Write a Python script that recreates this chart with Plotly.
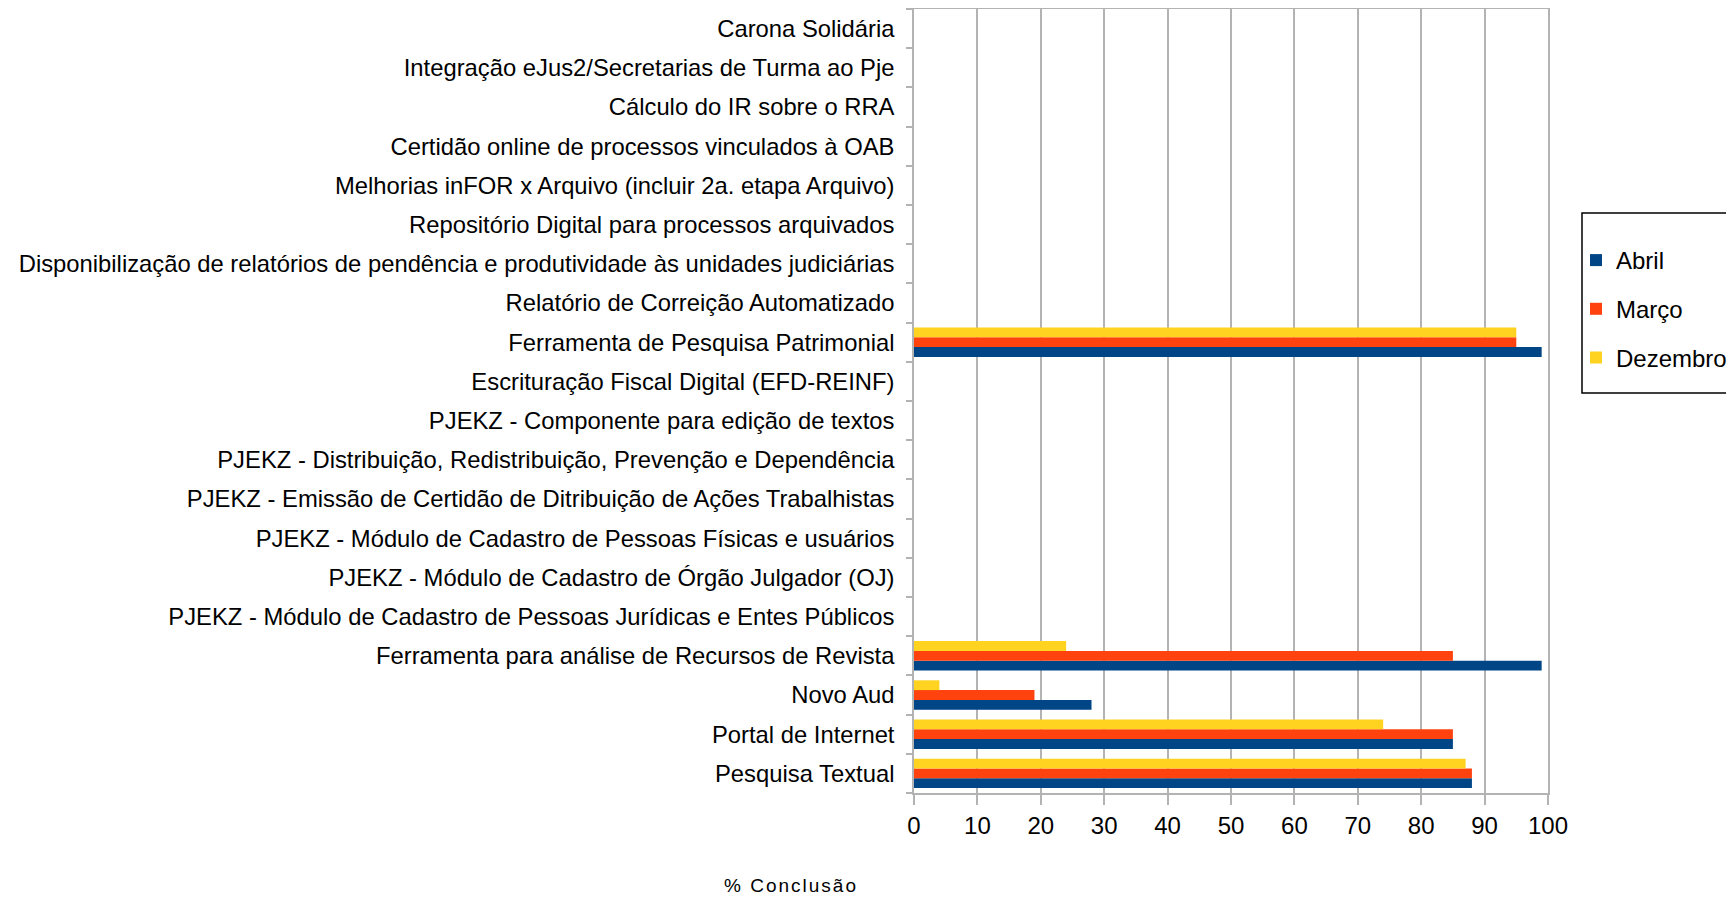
import plotly.graph_objects as go

categories = [
    "Pesquisa Textual",
    "Portal de Internet",
    "Novo Aud",
    "Ferramenta para análise de Recursos de Revista",
    "PJEKZ - Módulo de Cadastro de Pessoas Jurídicas e Entes Públicos",
    "PJEKZ - Módulo de Cadastro de Órgão Julgador (OJ)",
    "PJEKZ - Módulo de Cadastro de Pessoas Físicas e usuários",
    "PJEKZ - Emissão de Certidão de Ditribuição de Ações Trabalhistas",
    "PJEKZ - Distribuição, Redistribuição, Prevenção e Dependência",
    "PJEKZ - Componente para edição de textos",
    "Escrituração Fiscal Digital (EFD-REINF)",
    "Ferramenta de Pesquisa Patrimonial",
    "Relatório de Correição Automatizado",
    "Disponibilização de relatórios de pendência e produtividade às unidades judiciárias",
    "Repositório Digital para processos arquivados",
    "Melhorias inFOR x Arquivo (incluir 2a. etapa Arquivo)",
    "Certidão online de processos vinculados à OAB",
    "Cálculo do IR sobre o RRA",
    "Integração eJus2/Secretarias de Turma ao Pje",
    "Carona Solidária",
]

abril = [88, 85, 28, 99, None, None, None, None, None, None, None, 99, None, None, None, None, None, None, None, None]
marco = [88, 85, 19, 85, None, None, None, None, None, None, None, 95, None, None, None, None, None, None, None, None]
dezembro = [87, 74, 4, 24, None, None, None, None, None, None, None, 95, None, None, None, None, None, None, None, None]

series_names = ["Abril", "Março", "Dezembro"]
series_values = [abril, marco, dezembro]
colors = ["#004586", "#ff420e", "#ffd320"]

x_ticks = [0, 10, 20, 30, 40, 50, 60, 70, 80, 90, 100]
x_title = "% Conclusão"

FONT = "Liberation Sans, Arial, sans-serif"
OFF = 8  # page body margin
W, H = 1734 - OFF, 897 - OFF
L = 914 - OFF
T = 9 - OFF
R = W - (1548 - OFF)
B = H - (793 - OFF)
PW, PH = W - L - R, H - T - B


def px(sx):
    return (sx - OFF - L) / PW


def py(sy):
    return 1 - (sy - OFF - T) / PH


fig = go.Figure()
for name, vals, col in zip(series_names, series_values, colors):
    fig.add_trace(go.Bar(
        y=categories, x=vals, name=name, orientation="h",
        marker=dict(color=col, line=dict(width=0)),
        legendgroup=name,
    ))

fig.update_layout(
    width=W, height=H,
    margin=dict(l=L, r=R, t=T, b=B, autoexpand=False),
    paper_bgcolor="white", plot_bgcolor="white",
    barmode="group", bargap=0.25, bargroupgap=0,
    font=dict(family=FONT, size=24, color="#000000"),
    legend=dict(
        x=px(1576), xanchor="left", y=py(238), yanchor="top",
        font=dict(family=FONT, size=24, color="#000000"),
        bordercolor="#000000", borderwidth=0,
        tracegroupgap=14.5, itemsizing="constant",
        bgcolor="rgba(0,0,0,0)",
    ),
    showlegend=True,
)

fig.update_xaxes(
    range=[0, 100], tickvals=x_ticks, ticktext=[str(v) for v in x_ticks],
    showgrid=True, gridcolor="#b3b3b3", gridwidth=1.5,
    showline=True, linecolor="#b3b3b3", linewidth=1.5, mirror=True,
    ticks="outside", ticklen=10, tickcolor="#b3b3b3", tickwidth=1.5,
    tickfont=dict(family=FONT, size=24, color="#000000"),
    zeroline=False, fixedrange=True,
)
fig.update_yaxes(
    type="category", categoryorder="array", categoryarray=categories,
    range=[-0.5, len(categories) - 0.5],
    showgrid=False,
    showline=True, linecolor="#b3b3b3", linewidth=1.5, mirror=True,
    ticks="outside", ticklen=6, tickcolor="#b3b3b3", tickwidth=1.5,
    tickson="boundaries", ticklabelstandoff=13,
    tickfont=dict(family=FONT, size=23.8, color="#000000"),
    fixedrange=True,
)

# legend frame (extends past the right edge, as in the reference)
fig.add_shape(type="rect", xref="paper", yref="paper",
              x0=px(1582), x1=px(1800),
              y0=py(393), y1=py(213),
              line=dict(color="#000000", width=1.5), fillcolor="rgba(0,0,0,0)",
              layer="above")

fig.add_annotation(
    text=f'<span style="letter-spacing:2px">{x_title}</span>',
    xref="paper", yref="paper",
    x=px(791), y=py(885),
    xanchor="center", yanchor="middle", showarrow=False,
    font=dict(family=FONT, size=19, color="#000000"),
)

fig.write_html("out.html")
